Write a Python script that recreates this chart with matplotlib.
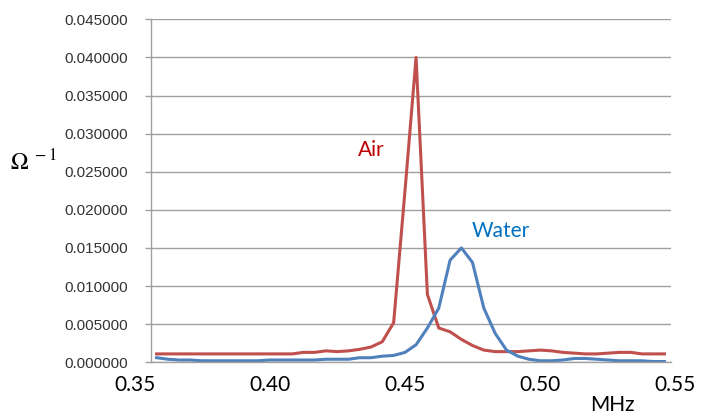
import matplotlib
matplotlib.use('Agg')
import matplotlib.pyplot as plt
from matplotlib.ticker import FormatStrFormatter

# frequency samples (MHz)
freq = [0.3580, 0.3622, 0.3664, 0.3705, 0.3747, 0.3789, 0.3831, 0.3873, 0.3914, 0.3956,
        0.3998, 0.4040, 0.4082, 0.4123, 0.4165, 0.4207, 0.4249, 0.4291, 0.4332, 0.4374,
        0.4416, 0.4458, 0.4500, 0.4541, 0.4583, 0.4625, 0.4667, 0.4709, 0.4750, 0.4792,
        0.4834, 0.4876, 0.4918, 0.4959, 0.5001, 0.5043, 0.5085, 0.5127, 0.5168, 0.5210,
        0.5252, 0.5294, 0.5336, 0.5377, 0.5419, 0.5461]

air = [0.0011, 0.0011, 0.0011, 0.0011, 0.0011, 0.0011, 0.0011, 0.0011, 0.0011, 0.0011,
       0.0011, 0.0011, 0.0011, 0.0013, 0.0013, 0.0015, 0.0014, 0.0015, 0.0017, 0.0020,
       0.0027, 0.0052, 0.0225, 0.0400, 0.0089, 0.0045, 0.0040, 0.0030, 0.0022, 0.0016,
       0.0014, 0.0014, 0.0014, 0.0015, 0.0016, 0.0015, 0.0013, 0.0012, 0.0011, 0.0011,
       0.0012, 0.0013, 0.0013, 0.0011, 0.0011, 0.0011]

water = [0.0006, 0.0004, 0.0003, 0.0003, 0.0002, 0.0002, 0.0002, 0.0002, 0.0002, 0.0002,
         0.0003, 0.0003, 0.0003, 0.0003, 0.0003, 0.0004, 0.0004, 0.0004, 0.0006, 0.0006,
         0.0008, 0.0009, 0.0013, 0.0023, 0.0045, 0.0071, 0.0134, 0.0150, 0.0131, 0.0071,
         0.0038, 0.0016, 0.0008, 0.0004, 0.0002, 0.0002, 0.0003, 0.0005, 0.0005, 0.0004,
         0.0003, 0.0002, 0.0002, 0.0002, 0.0001, 0.0001]

x_labels = [0.35, 0.40, 0.45, 0.50, 0.55]
y_ticks = [0.000, 0.005, 0.010, 0.015, 0.020, 0.025, 0.030, 0.035, 0.040, 0.045]

fig = plt.figure(figsize=(7.01, 4.17), dpi=100)
ax = fig.add_axes([0.2154, 0.1312, 0.7418, 0.8225])

ax.plot(freq, air, color='#C0504D', lw=2.2, solid_joinstyle='round')
ax.plot(freq, water, color='#4F81BD', lw=2.2, solid_joinstyle='round')

ax.set_xlim(0.35593, 0.54852)
ax.set_ylim(0, 0.045)
ax.set_yticks(y_ticks)
ax.yaxis.set_major_formatter(FormatStrFormatter('%.6f'))
ax.set_xticks([])
ax.tick_params(axis='y', direction='out', length=4.3, width=1, color='#A0A0A0',
               labelsize=11, labelcolor='#333333', pad=12)
for lab in ax.get_yticklabels():
    lab.set_family('Liberation Sans')

ax.grid(axis='y', color='#A0A0A0', lw=1)
ax.set_axisbelow(True)
for side in ['top', 'right']:
    ax.spines[side].set_visible(False)
for side in ['left', 'bottom']:
    ax.spines[side].set_color('#A0A0A0')
    ax.spines[side].set_linewidth(1)

# x labels are drawn as text so the 0.35 one can sit left of the axis
trans = ax.get_xaxis_transform()
for v in x_labels:
    ax.text(v, -0.065, f'{v:.2f}', transform=trans, ha='center', va='center',
            fontsize=15, family='Lato', color='black', clip_on=False)
fig.text(0.873, 0.005, 'MHz', ha='center', va='bottom', fontsize=15,
         family='Lato', color='black')

ax.text(0.4376, 0.0279, 'Air', ha='center', va='center', fontsize=15,
        family='Lato', color='#C00000')
ax.text(0.4856, 0.0172, 'Water', ha='center', va='center', fontsize=15,
        family='Lato', color='#0070C0')

plt.rcParams['mathtext.fontset'] = 'stix'
fig.text(0.014, 0.61, r'$\Omega^{\ -1}$', ha='left', va='center', fontsize=17)

fig.savefig('out.png', dpi=100)
